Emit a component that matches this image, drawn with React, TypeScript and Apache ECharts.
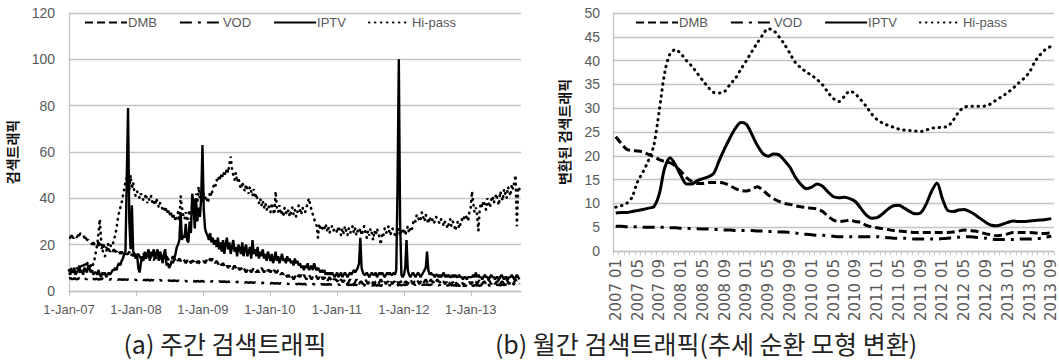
import React, { useEffect, useRef } from "react";
import * as echarts from "echarts";

const SERIES_NAMES = ["DMB", "VOD", "IPTV", "Hi-pass"];

// ---------- panel (a): weekly search traffic (2007-01 .. 2013-09) ----------
const weeklyTickLabels = ["1-Jan-07", "1-Jan-08", "1-Jan-09", "1-Jan-10", "1-Jan-11", "1-Jan-12", "1-Jan-13"];

const weeklyDMB = [
  // 2007
  23,23,24,23,23,24,23,24,24,25, 24,24,23,23,22,22,21,21,20,21, 20,20,19,21,20,18,19,20,18,19,
  18,18,17,18,17,18,17,17,18,17, 16,17,16,17,16,16,16,17,15,16, 15,16,
  // 2008
  16,15,16,15,14,15,16,14,15,14, 15,14,15,14,13,15,14,15,14,14, 15,14,13,14,15,14,13,14,14,15,
  14,13,14,13,14,13,13,14,13,12, 13,14,13,12,13,13,12,13,12,13, 12,12,
  // 2009
  12,13,12,13,14,13,14,13,14,13, 12,13,12,11,12,11,12,11,10,11, 10,11,10,9,10,11,10,9,10,9,
  10,9,10,9,8,9,10,9,8,9, 10,9,8,9,8,9,10,9,8,9, 8,9,
  // 2010
  9,8,9,8,9,8,8,9,8,7, 8,7,8,7,6,7,6,7,6,5, 6,7,6,7,6,7,6,7,6,5,
  6,7,6,5,6,6,7,6,5,6, 5,6,5,6,5,4,5,6,5,4, 5,5,
  // 2011
  5,4,5,4,5,4,4,5,4,3, 4,5,4,4,3,4,5,4,3,4, 4,3,4,5,4,3,4,4,3,4,
  3,4,4,3,4,5,4,3,4,3, 4,4,3,4,3,4,4,3,4,3, 4,4,
  // 2012
  4,3,4,4,3,4,5,4,3,4, 4,5,4,3,4,5,4,4,5,4, 3,4,5,4,4,3,4,5,4,4,
  3,4,4,3,4,3,4,3,3,4, 3,4,3,3,2,3,4,3,3,2, 3,3,4,
  // 2013
  3,4,3,4,4,3,4,5,4,3, 4,4,3,4,5,4,3,4,4,3, 4,4,5,3,4,4,3,4,5,4,
  3,4,4,3,4,5,4,4,3,
];

const weeklyVOD = [
  5.4,5.6,5.2,5.1,5.5,5.3,5.0,5.2,5.6,5.1, 5.3,5.0,5.4,5.2,5.1,5.5,5.0,5.3,5.1,5.2, 5.0,5.3,5.1,4.9,5.2,5.0,5.4,5.1,4.9,5.2,
  5.0,5.1,4.9,5.2,5.0,4.9,5.1,5.0,4.8,5.1, 4.9,5.0,4.8,5.1,4.9,4.8,5.0,4.9,4.7,5.0, 4.8,4.9,
  4.8,4.7,5.0,4.8,4.6,4.9,4.7,4.8,4.6,4.9, 4.7,4.5,4.8,4.6,4.7,4.5,4.8,4.6,4.4,4.7, 4.5,4.6,4.4,4.7,4.5,4.3,4.6,4.4,4.5,4.3,
  4.6,4.4,4.3,4.5,4.3,4.4,4.2,4.5,4.3,4.4, 4.2,4.4,4.3,4.1,4.4,4.2,4.3,4.1,4.3,4.2, 4.0,4.3,
  4.2,4.1,4.3,4.1,4.2,4.0,4.3,4.1,4.2,4.0, 4.2,4.1,3.9,4.2,4.0,4.1,3.9,4.1,4.0,3.8, 4.1,3.9,4.0,3.8,4.0,3.9,3.7,4.0,3.8,3.9,
  3.7,3.9,3.8,3.6,3.8,3.7,3.5,3.8,3.6,3.7, 3.5,3.7,3.6,3.4,3.6,3.5,3.3,3.6,3.4,3.5, 3.3,3.5,
  3.4,3.2,3.5,3.3,3.4,3.2,3.4,3.3,3.1,3.4, 3.2,3.3,3.1,3.3,3.2,3.0,3.3,3.1,3.2,3.0, 3.2,3.1,2.9,3.2,3.0,3.1,2.9,3.1,3.0,2.8,
  3.1,2.9,3.0,2.8,3.0,2.9,3.1,2.8,3.0,2.9, 2.7,3.0,2.8,2.9,2.7,2.9,2.8,3.0,2.7,2.9, 2.8,2.6,
  2.9,2.7,2.8,2.6,2.9,2.7,2.8,2.6,2.8,2.7, 2.5,2.8,2.6,2.7,2.5,2.7,2.6,2.4,2.7,2.5, 2.6,2.4,2.6,2.5,2.3,2.6,2.4,2.5,2.3,2.5,
  2.4,2.6,2.3,2.5,2.4,2.2,2.5,2.3,2.4,2.6, 2.3,2.5,2.4,2.6,2.3,2.5,2.7,2.4,2.6,2.5, 2.7,2.4,
  2.6,2.8,2.5,2.7,2.9,2.6,2.8,3.0,2.7,2.9, 2.6,2.8,3.0,2.7,2.9,2.6,2.8,2.7,2.9,2.6, 2.8,2.5,2.7,2.9,2.6,2.8,2.5,2.7,2.4,2.6,
  2.8,2.5,2.7,2.4,2.6,2.3,2.5,2.7,2.4,2.6, 2.3,2.5,2.2,2.4,2.6,2.3,2.5,2.2,2.4,2.3, 2.5,2.2,2.4,
  2.3,2.5,2.2,2.4,2.6,2.3,2.5,2.2,2.4,2.6, 2.3,2.5,2.7,2.4,2.6,2.3,2.5,2.7,2.4,2.6, 2.8,2.5,2.7,2.4,2.6,2.8,2.5,2.7,2.9,2.6,
  2.8,3.0,2.7,2.9,3.1,2.8,3.0,3.2,2.9,
];

const weeklyIPTV = [
  8,7,9,8,10,7,8,9,11,8, 9,7,10,9,8,11,10,8,9,7, 8,8,7,9,7,6,8,7,8,6, 7,8,7,8,9,
  9,10,9,11,12,11,13,14,16,17, 48,79,30,18,37,17,16,
  14,16,10,8,12,15,13,17,14,16, 18,13,17,15,18,14,16,18,13,17, 15,12,16,18,11,12,10,11,13,12,
  14,16,19,20,22,34,22,24,23,29, 22,21,30,25,42,38,27,40,30,36, 32,40,
  63,35,27,25,24,22,25,21,23,20, 22,19,23,18,21,17,22,16,20,23, 18,21,16,19,22,17,19,15,20,18,
  16,21,15,18,20,15,17,19,14,22, 16,18,15,19,14,17,15,18,14,16, 13,17,
  15,13,16,12,14,17,13,15,12,14, 16,13,14,12,15,13,14,12,13,11, 14,12,13,11,12,10,11,9,11,10,
  12,9,10,11,9,12,10,9,10,9, 8,9,8,9,7,8,7,8,7,8, 7,6,
  7,8,6,7,8,6,7,8,7,6, 7,8,7,8,9,8,9,10,12,23, 10,8,7,7,8,7,6,7,8,7,
  7,8,6,7,8,7,8,7,6,7, 8,7,8,7,7,8,7,9,45,100, 30,7,
  6,7,10,22,9,7,6,7,8,7, 6,7,8,7,6,7,8,9,10,17, 9,7,8,7,7,6,7,7,6,7,
  6,7,8,6,7,6,7,6,6,7, 6,7,6,6,7,6,6,5,6,6, 5,6,6,
  6,6,7,6,8,6,7,6,6,5, 6,7,6,6,5,6,7,6,6,5, 6,6,5,6,7,6,5,6,6,5,
  6,6,7,6,5,6,7,6,5,
];

const weeklyHipass = [
  9,8,10,9,8,9,10,9,8,10, 11,10,12,11,13,10,12,11,10,12, 14,17,20,25,31,22,18,16,15,17,
  19,21,20,19,20,22,24,27,31,34, 36,38,41,44,47,49,48,43,50,44, 47,42,
  41,43,42,40,42,41,39,40,42,38, 40,39,41,38,39,37,40,38,36,38, 37,35,36,34,36,33,35,32,34,31,
  33,30,32,34,30,41,36,33,31,34, 30,33,35,31,37,40,34,42,38,45, 40,43,
  39,42,40,41,38,40,43,41,44,46, 45,48,47,50,48,51,49,52,50,53, 51,55,58,53,50,48,51,47,49,46,
  44,47,45,43,46,44,42,45,43,41, 44,40,42,39,38,40,37,39,36,38, 35,37,
  36,34,38,35,33,43,36,34,37,33, 35,32,36,34,33,35,32,34,36,33, 35,32,34,37,35,33,36,34,
  34,36,38,40,37,35,33,31,30,28, 23,29,27,28,26,27,29,26,28,25, 27,28,26,27,
  27,25,28,26,24,27,25,28,26,24, 27,25,26,28,25,27,24,26,25,27, 24,26,28,25,23,26,24,27,25,22,
  26,24,27,25,23,20,25,24,27,25, 26,28,24,25,27,26,24,23,25,27, 24,26,
  25,27,24,26,28,25,27,26,29,31, 30,33,32,30,31,34,32,30,33,31, 29,32,30,31,29,30,32,31,30,29,
  31,30,28,30,29,27,29,31,28,30, 29,26,28,30,27,29,31,30,32,31, 33,30,34,
  36,43,38,34,36,33,26,35,38,36, 39,37,35,40,38,36,39,41,38,40, 42,39,37,43,41,39,44,42,40,45,
  43,41,46,44,47,50,28,45,44,
];

// ---------- panel (b): monthly, trend-cycle transformed (2007 01 .. 2013 09) ----------
const monthlyCategories: string[] = [];
for (let y = 2007; y <= 2013; y++) {
  for (let m = 1; m <= 12; m++) {
    if (y === 2013 && m > 9) break;
    monthlyCategories.push(`${y} ${m < 10 ? "0" + m : m}`);
  }
}

const monthlyDMB = [
  24.0,22.6,21.4,21.1,21.0,20.8,20.3,19.8,19.2,18.8,
  18.5,17.8,16.7,15.4,14.6,14.2,14.2,14.4,14.4,14.4,
  14.2,13.7,13.1,12.7,12.6,13.0,13.5,12.8,11.8,11.0,
  10.4,10.0,9.8,9.5,9.3,9.1,9.0,8.8,8.3,7.3,
  6.5,6.2,6.3,6.5,6.2,6.0,5.4,5.1,4.9,4.7,
  4.5,4.3,4.2,4.1,4.0,3.9,3.9,3.9,3.9,3.9,
  3.9,3.9,4.0,4.2,4.4,4.3,4.2,3.9,3.6,3.4,
  3.2,3.3,3.6,3.9,3.9,3.9,3.9,3.8,3.7,3.7,
  3.8,
];
const monthlyVOD = [
  5.2,5.2,5.1,5.1,5.1,5.0,5.0,5.0,5.0,5.0,
  4.9,4.9,4.8,4.8,4.7,4.7,4.6,4.6,4.5,4.5,
  4.4,4.4,4.3,4.3,4.3,4.3,4.2,4.2,4.1,4.1,
  4.0,4.0,3.9,3.8,3.6,3.5,3.4,3.3,3.3,3.2,
  3.1,3.0,3.0,3.0,3.0,3.0,3.0,3.0,3.0,2.9,
  2.8,2.7,2.7,2.7,2.6,2.5,2.5,2.5,2.5,2.5,
  2.6,2.7,2.8,2.9,3.0,3.0,2.9,2.8,2.7,2.5,
  2.4,2.4,2.4,2.4,2.5,2.5,2.5,2.6,2.7,2.9,
  3.1,
];
const monthlyIPTV = [
  8.0,8.1,8.1,8.3,8.5,8.7,9.0,9.3,12.0,17.5,
  19.6,18.0,15.8,14.1,14.1,14.8,15.2,15.6,16.3,19.0,
  21.5,23.8,25.8,27.0,26.6,24.5,22.2,20.5,19.9,20.4,
  20.2,19.0,17.6,15.5,14.0,13.1,13.4,14.1,13.6,12.4,
  11.4,11.2,11.3,11.0,10.4,9.0,7.6,6.9,7.0,7.8,
  8.8,9.5,9.6,9.0,8.3,7.8,8.0,9.8,12.5,14.3,
  11.0,8.5,8.3,8.6,8.7,8.3,7.6,6.8,6.0,5.4,
  5.3,5.6,6.0,6.3,6.2,6.2,6.3,6.4,6.5,6.6,
  6.8,
];
const monthlyHipass = [
  9.2,9.5,10.0,11.3,14.5,16.6,19.0,22.2,29.5,37.5,
  41.5,42.3,41.4,40.0,38.8,37.3,35.8,34.4,33.3,33.2,
  33.5,35.0,36.3,38.2,40.0,41.9,43.7,45.4,46.7,46.3,
  45.0,43.4,41.5,39.6,38.5,37.6,36.9,36.0,34.9,33.3,
  32.0,31.4,32.5,33.6,33.0,31.8,30.4,28.8,27.6,26.9,
  26.4,26.0,25.6,25.4,25.3,25.2,25.1,25.4,25.8,25.9,
  26.0,26.2,27.5,29.2,30.2,30.4,30.4,30.4,30.5,31.0,
  31.8,32.5,33.3,34.2,35.3,36.3,37.6,39.8,41.3,42.4,
  43.0,
];

const LINE_STYLES: Record<string, any> = {
  DMB: { type: [8, 4], width: 3, cap: "butt" },
  VOD: { type: [12, 6, 3, 6], width: 3, cap: "butt" },
  IPTV: { type: "solid", width: 3 },
  "Hi-pass": { type: [0.5, 5.5], width: 3, cap: "round" },
};

const GRID_COLOR = "#c4c4c4";
const LABEL_COLOR = "#595959";
const SANS = '"Liberation Sans", Arial, sans-serif';
const KR = '"Noto Sans CJK KR", sans-serif';

export default function App() {
  const ref = useRef<HTMLDivElement>(null);

  useEffect(() => {
    document.body.style.margin = "0";
    if (!ref.current) return;
    const chart = echarts.init(ref.current, null, { renderer: "svg" });

    const weeklySets = [weeklyDMB, weeklyVOD, weeklyIPTV, weeklyHipass];
    const monthlySets = [monthlyDMB, monthlyVOD, monthlyIPTV, monthlyHipass];
    const weekToYear = (i: number) => (i * 7) / 365.25;

    const legendBase = {
      top: 11,
      itemWidth: 42,
      itemHeight: 14,
      itemGap: 22,
      selectedMode: false,
      data: SERIES_NAMES,
      itemStyle: { opacity: 0, color: "transparent", borderWidth: 0 },
      textStyle: { color: LABEL_COLOR, fontFamily: SANS, fontSize: 13, padding: [0, 0, 0, -4] },
    };

    const series: any[] = [];
    SERIES_NAMES.forEach((name, k) => {
      series.push({
        name,
        type: "line",
        xAxisIndex: 0,
        yAxisIndex: 0,
        symbol: "none",
        data: weeklySets[k].map((v, i) => [weekToYear(i), v]),
        lineStyle: { color: "#000", ...LINE_STYLES[name], width: name === "Hi-pass" ? 2.6 : 2.4 },
        itemStyle: { color: "#000" },
        z: name === "IPTV" ? 3 : 2,
      });
    });
    SERIES_NAMES.forEach((name, k) => {
      series.push({
        name,
        type: "line",
        xAxisIndex: 1,
        yAxisIndex: 1,
        symbol: "none",
        smooth: 0.3,
        data: monthlySets[k],
        lineStyle: { color: "#000", ...LINE_STYLES[name] },
        itemStyle: { color: "#000" },
      });
    });

    chart.setOption({
      animation: false,
      backgroundColor: "#fff",
      legend: [
        { ...legendBase, left: 79 },
        { ...legendBase, left: 630 },
      ],
      grid: [
        { left: 69, top: 13, right: 1059 - 521, bottom: 362 - 291 },
        { left: 613, top: 13, right: 5, bottom: 362 - 251 },
      ],
      xAxis: [
        {
          type: "value",
          gridIndex: 0,
          min: 0,
          max: 6.75,
          interval: 1,
          splitLine: { show: false },
          axisLine: { show: true, lineStyle: { color: GRID_COLOR, width: 1.3 } },
          axisTick: { show: true, length: 5, customValues: [0, 1, 2, 3, 4, 5, 6], lineStyle: { color: GRID_COLOR } },
          axisLabel: {
            customValues: [0, 1, 2, 3, 4, 5, 6],
            color: LABEL_COLOR,
            fontFamily: SANS,
            fontSize: 13,
            margin: 12,
            formatter: (v: number) => (Number.isInteger(v) && weeklyTickLabels[v] ? weeklyTickLabels[v] : ""),
          },
        },
        {
          type: "category",
          gridIndex: 1,
          data: monthlyCategories,
          boundaryGap: true,
          axisLine: { show: true, lineStyle: { color: GRID_COLOR, width: 1.3 } },
          axisTick: { show: true, interval: 0, length: 4, lineStyle: { color: GRID_COLOR } },
          axisLabel: {
            interval: 3,
            rotate: 90,
            color: LABEL_COLOR,
            fontFamily: '"DejaVu Sans", sans-serif',
            fontSize: 15,
            margin: 8,
          },
          splitLine: { show: false },
        },
      ],
      yAxis: [
        {
          type: "value",
          gridIndex: 0,
          min: 0,
          max: 120,
          interval: 20,
          name: "검색트래픽",
          nameLocation: "middle",
          nameRotate: 90,
          nameGap: 50,
          nameTextStyle: { fontFamily: KR, fontWeight: "bold", fontSize: 14, color: "#111" },
          axisLine: { show: true, lineStyle: { color: GRID_COLOR, width: 1.3 } },
          axisTick: { show: false },
          axisLabel: { color: LABEL_COLOR, fontFamily: SANS, fontSize: 14, margin: 14 },
          splitLine: { show: true, lineStyle: { color: GRID_COLOR, width: 1.3 } },
        },
        {
          type: "value",
          gridIndex: 1,
          min: 0,
          max: 50,
          interval: 5,
          name: "변환된 검색트래픽",
          nameLocation: "middle",
          nameRotate: 90,
          nameGap: 42,
          nameTextStyle: { fontFamily: KR, fontWeight: "bold", fontSize: 14, color: "#111" },
          axisLine: { show: true, lineStyle: { color: GRID_COLOR, width: 1.3 } },
          axisTick: { show: false },
          axisLabel: { color: LABEL_COLOR, fontFamily: SANS, fontSize: 14, margin: 13 },
          splitLine: { show: true, lineStyle: { color: GRID_COLOR, width: 1.3 } },
        },
      ],
      graphic: [
        {
          type: "text",
          x: 225,
          y: 343,
          style: {
            text: "(a) 주간 검색트래픽",
            font: `25px ${KR}`,
            fill: "#222",
            textAlign: "center",
            textVerticalAlign: "middle",
            align: "center",
            verticalAlign: "middle",
          },
        },
        {
          type: "text",
          x: 706,
          y: 343,
          style: {
            text: "(b) 월간 검색트래픽(추세 순환 모형 변환)",
            font: `25px ${KR}`,
            fill: "#222",
            textAlign: "center",
            textVerticalAlign: "middle",
            align: "center",
            verticalAlign: "middle",
          },
        },
      ],
      series,
    });

    return () => chart.dispose();
  }, []);

  return <div ref={ref} style={{ width: 1059, height: 362 }} />;
}
